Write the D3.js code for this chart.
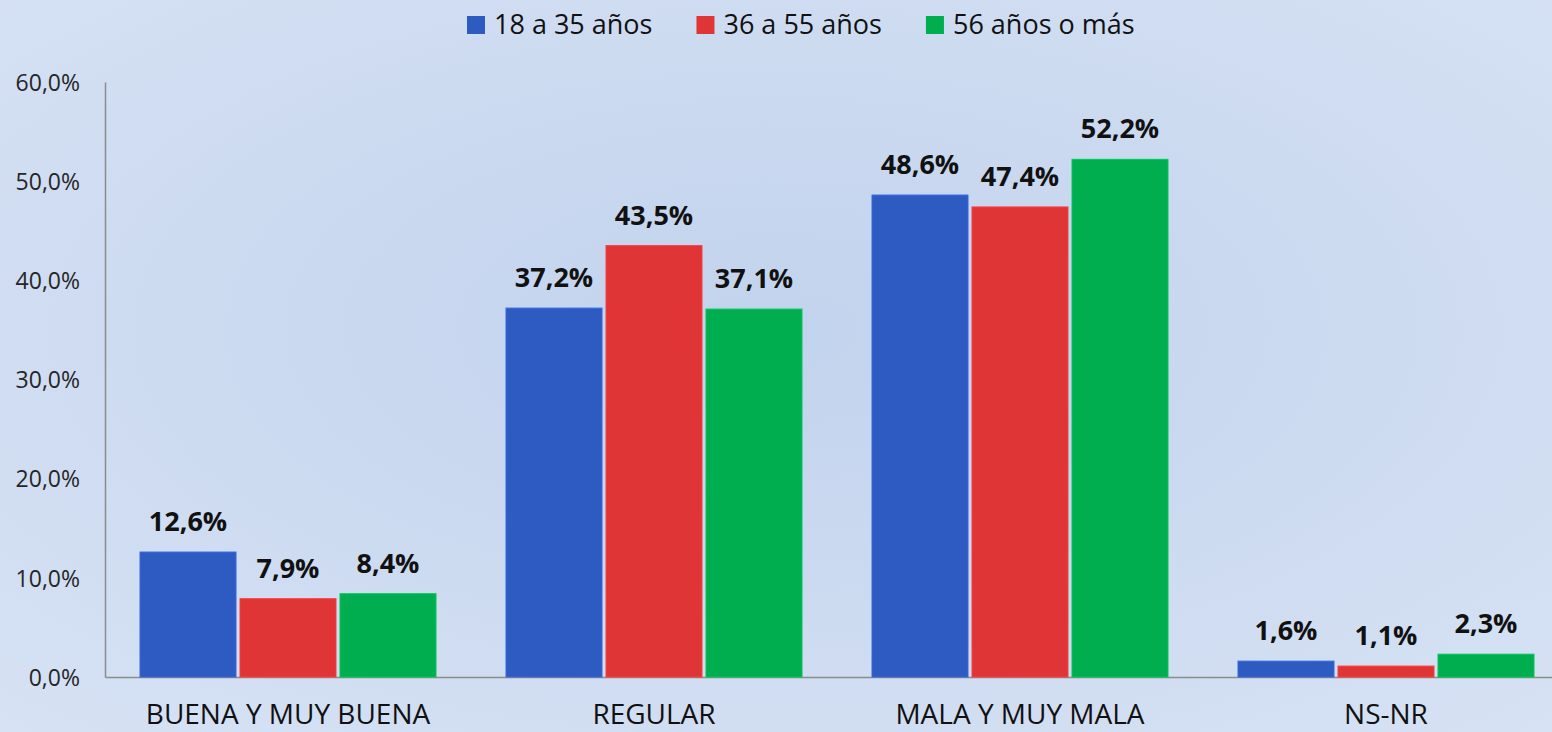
<!DOCTYPE html>
<html>
<head>
<meta charset="utf-8">
<style>
    body { margin: 0; overflow: hidden; }
    .tick text { font-family: 'Open Sans'; font-size: 23px; fill: #262626; }
    .cat text { font-family: 'Open Sans'; font-size: 28px; fill: #111; }
    .lbl { font-family: 'Open Sans'; font-size: 27px; font-weight: bold; fill: #111; }
    .legend text { font-family: 'Open Sans'; font-size: 27px; fill: #111; }
</style>
</head>
<body>
<svg id="chart"></svg>
<script src="https://cdn.jsdelivr.net/npm/d3@7"></script>
<script>
    var categories = ['BUENA Y MUY BUENA', 'REGULAR', 'MALA Y MUY MALA', 'NS-NR'];
    var seriesNames = ['18 a 35 años', '36 a 55 años', '56 años o más'];
    var colors = ['#2e5bc2', '#df3537', '#00ad4f'];
    var young = [12.6, 37.2, 48.6, 1.6];
    var middle = [7.9, 43.5, 47.4, 1.1];
    var older = [8.4, 37.1, 52.2, 2.3];
    var yTicks = [0, 10, 20, 30, 40, 50, 60];

    var values = [young, middle, older];
    var width = 1552, height = 732;
    // plot area runs a little past the right edge, like the original
    var g_left = 105, g_right = 1569, g_top = 82, g_bottom = 677;

    var svg = d3.select('#chart').attr('width', width).attr('height', height);

    // background
    var defs = svg.append('defs');
    var grad = defs.append('radialGradient').attr('id', 'bg')
        .attr('cx', '50%').attr('cy', '45%').attr('r', '75%');
    grad.append('stop').attr('offset', '0%').attr('stop-color', '#c2d3ed');
    grad.append('stop').attr('offset', '100%').attr('stop-color', '#d7e2f4');
    svg.append('rect').attr('width', width).attr('height', height).attr('fill', 'url(#bg)');

    var x0 = d3.scaleBand().domain(categories).range([g_left, g_right]).padding(0);
    var x1 = d3.scaleBand().domain(d3.range(seriesNames.length))
        .range([0, x0.bandwidth()]).paddingInner(0.04).paddingOuter(0.35);
    var y = d3.scaleLinear().domain([0, 60]).range([g_bottom, g_top]);

    // y axis
    var yAxis = d3.axisLeft(y).tickValues(yTicks).tickSize(0).tickPadding(25)
        .tickFormat(function(d) { return d3.format('.1f')(d).replace('.', ',') + '%'; });
    var gy = svg.append('g').attr('transform', 'translate(' + g_left + ',0)').call(yAxis);
    gy.select('.domain').attr('stroke', '#8c8c8c').attr('stroke-width', 1.5);
    gy.selectAll('.tick text').attr('dy', '0.36em');

    // x axis
    var xAxis = d3.axisBottom(x0).tickSize(0).tickPadding(30);
    var gx = svg.append('g').attr('class', 'cat').attr('transform', 'translate(0,' + g_bottom + ')').call(xAxis);
    gx.select('.domain').attr('stroke', '#8c8c8c').attr('stroke-width', 1.5);
    gx.selectAll('.tick text').attr('dy', '0.62em');

    // bars
    var groups = svg.append('g').selectAll('g').data(categories).enter().append('g')
        .attr('transform', function(d) { return 'translate(' + x0(d) + ',0)'; });
    groups.each(function(cat, ci) {
        var g = d3.select(this);
        values.forEach(function(arr, si) {
            var v = arr[ci];
            g.append('rect')
                .attr('x', x1(si))
                .attr('y', y(v))
                .attr('width', x1.bandwidth())
                .attr('height', y(0) - y(v))
                .attr('fill', colors[si])
                .attr('stroke', d3.color(colors[si]).brighter(0.4))
                .attr('stroke-width', 1);
            g.append('text').attr('class', 'lbl')
                .attr('x', x1(si) + x1.bandwidth() / 2)
                .attr('y', y(v) - 21)
                .attr('text-anchor', 'middle')
                .text(d3.format('.1f')(v).replace('.', ',') + '%');
        });
    });

    // legend
    var legend = svg.append('g').attr('class', 'legend');
    var items = legend.selectAll('g').data(seriesNames).enter().append('g');
    items.append('rect').attr('width', 18).attr('height', 18).attr('y', 16)
        .attr('fill', function(d, i) { return colors[i]; });
    items.append('text').attr('x', 27).attr('y', 34).text(function(d) { return d; });
    var pos = 467;
    items.each(function() {
        var w = d3.select(this).select('text').node().getComputedTextLength();
        d3.select(this).attr('transform', 'translate(' + pos + ',0)');
        pos += 27 + w + 44;
    });
</script>
</body>
</html>
